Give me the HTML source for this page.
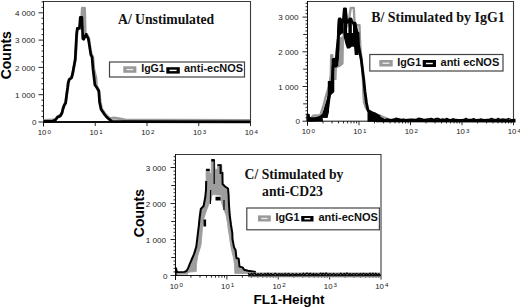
<!DOCTYPE html>
<html><head><meta charset="utf-8"><style>
html,body{margin:0;padding:0;background:#fff;width:520px;height:308px;overflow:hidden}
svg{display:block}
.tl{font-family:"Liberation Sans",sans-serif;font-size:8.1px;fill:#1a1a1a;white-space:pre}
.tl.xl{font-size:7.8px}
.sup{font-family:"Liberation Sans",sans-serif;font-size:6.2px;fill:#1a1a1a}
.ti{font-family:"Liberation Serif",serif;font-weight:bold;font-size:13.7px;fill:#111}
.lg{font-family:"Liberation Sans",sans-serif;font-weight:bold;font-size:10.2px;fill:#111}
.at.ct{font-size:14px}
.at{font-family:"Liberation Sans",sans-serif;font-weight:bold;font-size:13.6px;fill:#000}
</style></head><body>
<svg width="520" height="308" viewBox="0 0 520 308"><g>
<path d="M43.5 1.5H250.5V122" fill="none" stroke="#3a3a3a" stroke-width="1.1"/>
<path d="M43.5 1V126.5" fill="none" stroke="#111" stroke-width="1"/>
<path d="M43.5 122H250.5" fill="none" stroke="#111" stroke-width="2.2"/>
<path d="M38.5 122H43.5M41.5 116.54H43.5M41.5 111.08H43.5M41.5 105.62H43.5M41.5 100.16H43.5M38.5 94.7H43.5M41.5 89.24H43.5M41.5 83.78H43.5M41.5 78.32H43.5M41.5 72.86H43.5M38.5 67.4H43.5M41.5 61.94H43.5M41.5 56.48H43.5M41.5 51.02H43.5M41.5 45.56H43.5M38.5 40.1H43.5M41.5 34.64H43.5M41.5 29.18H43.5M41.5 23.72H43.5M41.5 18.26H43.5M38.5 12.8H43.5M41.5 7.34H43.5M41.5 1.88H43.5" stroke="#111" stroke-width="0.9"/>
<text x="36.6" y="125.2" text-anchor="end" class="tl">0</text>
<text x="35.2" y="97.9" text-anchor="end" class="tl">1 000</text>
<text x="35.2" y="70.6" text-anchor="end" class="tl">2 000</text>
<text x="35.2" y="43.3" text-anchor="end" class="tl">3 000</text>
<text x="35.2" y="16" text-anchor="end" class="tl">4 000</text>
<path d="M43.5 122V126M95.25 122V126M147 122V126M198.75 122V126M250.5 122V126" stroke="#111" stroke-width="0.9"/>
<text x="37.7" y="135" class="tl xl">10</text><text x="47.4" y="133.6" class="sup">0</text>
<text x="89.45" y="135" class="tl xl">10</text><text x="99.15" y="133.6" class="sup">1</text>
<text x="141.2" y="135" class="tl xl">10</text><text x="150.9" y="133.6" class="sup">2</text>
<text x="192.95" y="135" class="tl xl">10</text><text x="202.65" y="133.6" class="sup">3</text>
<text x="244.7" y="135" class="tl xl">10</text><text x="254.4" y="133.6" class="sup">4</text>
<path d="M307.5 1.5H513.5V121.2" fill="none" stroke="#3a3a3a" stroke-width="1.1"/>
<path d="M307.5 1V125.7" fill="none" stroke="#111" stroke-width="1"/>
<path d="M307.5 121.2H513.5" fill="none" stroke="#111" stroke-width="1"/>
<path d="M302.5 121.2H307.5M305.5 117.73H307.5M305.5 114.26H307.5M305.5 110.79H307.5M305.5 107.32H307.5M303.2 103.85H307.5M305.5 100.38H307.5M305.5 96.91H307.5M305.5 93.44H307.5M305.5 89.97H307.5M302.5 86.5H307.5M305.5 83.03H307.5M305.5 79.56H307.5M305.5 76.09H307.5M305.5 72.62H307.5M303.2 69.15H307.5M305.5 65.68H307.5M305.5 62.21H307.5M305.5 58.74H307.5M305.5 55.27H307.5M302.5 51.8H307.5M305.5 48.33H307.5M305.5 44.86H307.5M305.5 41.39H307.5M305.5 37.92H307.5M303.2 34.45H307.5M305.5 30.98H307.5M305.5 27.51H307.5M305.5 24.04H307.5M305.5 20.57H307.5M302.5 17.1H307.5M305.5 13.63H307.5M305.5 10.16H307.5M305.5 6.69H307.5M305.5 3.22H307.5" stroke="#111" stroke-width="0.9"/>
<text x="300" y="124.4" text-anchor="end" class="tl">0</text>
<text x="298.6" y="89.7" text-anchor="end" class="tl">1 000</text>
<text x="298.6" y="55" text-anchor="end" class="tl">2 000</text>
<text x="298.6" y="20.3" text-anchor="end" class="tl">3 000</text>
<path d="M307.5 121.2V125.2M323 121.2V123.4M332.07 121.2V123.4M338.51 121.2V123.4M343.5 121.2V123.4M347.57 121.2V123.4M351.02 121.2V123.4M354.01 121.2V123.4M356.64 121.2V123.4M359 121.2V125.2M374.5 121.2V123.4M383.57 121.2V123.4M390.01 121.2V123.4M395 121.2V123.4M399.07 121.2V123.4M402.52 121.2V123.4M405.51 121.2V123.4M408.14 121.2V123.4M410.5 121.2V125.2M426 121.2V123.4M435.07 121.2V123.4M441.51 121.2V123.4M446.5 121.2V123.4M450.57 121.2V123.4M454.02 121.2V123.4M457.01 121.2V123.4M459.64 121.2V123.4M462 121.2V125.2M477.5 121.2V123.4M486.57 121.2V123.4M493.01 121.2V123.4M498 121.2V123.4M502.07 121.2V123.4M505.52 121.2V123.4M508.51 121.2V123.4M511.14 121.2V123.4M513.5 121.2V125.2" stroke="#111" stroke-width="0.9"/>
<text x="301.7" y="134.2" class="tl xl">10</text><text x="311.4" y="132.8" class="sup">0</text>
<text x="353.2" y="134.2" class="tl xl">10</text><text x="362.9" y="132.8" class="sup">1</text>
<text x="404.7" y="134.2" class="tl xl">10</text><text x="414.4" y="132.8" class="sup">2</text>
<text x="456.2" y="134.2" class="tl xl">10</text><text x="465.9" y="132.8" class="sup">3</text>
<text x="507.7" y="134.2" class="tl xl">10</text><text x="517.4" y="132.8" class="sup">4</text>
<path d="M175.5 154.5H381V275.5" fill="none" stroke="#3a3a3a" stroke-width="1.1"/>
<path d="M175.5 154V280" fill="none" stroke="#111" stroke-width="1"/>
<path d="M175.5 275.5H381" fill="none" stroke="#111" stroke-width="1"/>
<path d="M170.5 275.5H175.5M173.5 271.9H175.5M173.5 268.3H175.5M173.5 264.7H175.5M173.5 261.1H175.5M171.2 257.5H175.5M173.5 253.9H175.5M173.5 250.3H175.5M173.5 246.7H175.5M173.5 243.1H175.5M170.5 239.5H175.5M173.5 235.9H175.5M173.5 232.3H175.5M173.5 228.7H175.5M173.5 225.1H175.5M171.2 221.5H175.5M173.5 217.9H175.5M173.5 214.3H175.5M173.5 210.7H175.5M173.5 207.1H175.5M170.5 203.5H175.5M173.5 199.9H175.5M173.5 196.3H175.5M173.5 192.7H175.5M173.5 189.1H175.5M171.2 185.5H175.5M173.5 181.9H175.5M173.5 178.3H175.5M173.5 174.7H175.5M173.5 171.1H175.5M170.5 167.5H175.5M173.5 163.9H175.5M173.5 160.3H175.5M173.5 156.7H175.5" stroke="#111" stroke-width="0.9"/>
<text x="167.4" y="278.7" text-anchor="end" class="tl">0</text>
<text x="166" y="242.7" text-anchor="end" class="tl">1 000</text>
<text x="166" y="206.7" text-anchor="end" class="tl">2 000</text>
<text x="166" y="170.7" text-anchor="end" class="tl">3 000</text>
<path d="M175.5 275.5V279.5M190.97 275.5V277.7M200.01 275.5V277.7M206.43 275.5V277.7M211.41 275.5V277.7M215.48 275.5V277.7M218.92 275.5V277.7M221.9 275.5V277.7M224.52 275.5V277.7M226.88 275.5V279.5M242.34 275.5V277.7M251.39 275.5V277.7M257.81 275.5V277.7M262.78 275.5V277.7M266.85 275.5V277.7M270.29 275.5V277.7M273.27 275.5V277.7M275.9 275.5V277.7M278.25 275.5V279.5M293.72 275.5V277.7M302.76 275.5V277.7M309.18 275.5V277.7M314.16 275.5V277.7M318.23 275.5V277.7M321.67 275.5V277.7M324.65 275.5V277.7M327.27 275.5V277.7M329.62 275.5V279.5M345.09 275.5V277.7M354.14 275.5V277.7M360.56 275.5V277.7M365.53 275.5V277.7M369.6 275.5V277.7M373.04 275.5V277.7M376.02 275.5V277.7M378.65 275.5V277.7M381 275.5V279.5" stroke="#111" stroke-width="0.9"/>
<text x="169.7" y="288.5" class="tl xl">10</text><text x="179.4" y="287.1" class="sup">0</text>
<text x="221.07" y="288.5" class="tl xl">10</text><text x="230.78" y="287.1" class="sup">1</text>
<text x="272.45" y="288.5" class="tl xl">10</text><text x="282.15" y="287.1" class="sup">2</text>
<text x="323.82" y="288.5" class="tl xl">10</text><text x="333.52" y="287.1" class="sup">3</text>
<text x="375.2" y="288.5" class="tl xl">10</text><text x="384.9" y="287.1" class="sup">4</text>
<g fill="none" stroke-linejoin="round" stroke-linecap="butt">
<!-- A gray -->
<path stroke="#9a9a9a" stroke-width="2.8" d="M43.5 120.3 L53 120 L55.5 119 L57.5 116.5 L60.3 115.2 L62 112.5 L63 108 L64.5 104.5 L65.6 102.5 L67 92.5 L68.3 85 L69 80 L71.6 77.3 L72.7 74 L75.4 59.6 L76.3 45 L76.9 34 L77.5 28.3 L80 28.3 L81.8 17 L82.3 8.2 L84.6 8.2 L85.2 33.5 L86.5 34 L88.8 38.6 L90.3 50 L91.5 54.6 L92.8 57 L93.8 69.2 L96 78 L96.5 86 L98.8 90.5 L100.2 101.5 L101.7 109 L104.6 113.3 L106.8 116 L110 118.6 L114 118 L119 118.6 L125 119.8 L160 120.2 L250 120.4"/>
<!-- A black -->
<path stroke="#000" stroke-width="2.7" d="M43.5 121.3 L53 121.1 L55.5 120 L57.5 117.3 L60.3 116 L62 113 L63 109 L64.3 105 L65.6 103.2 L66.9 92.8 L67.6 88 L68.1 83 L69.3 79.4 L71.5 77.9 L72.5 74.2 L75.2 59.6 L76 45 L76.6 34.2 L77.3 28.4 L79.4 28.4 L80.3 17.4 L82 17.4 L82.8 38.6 L83.6 39.4 L86.1 34.3 L88.3 38.6 L89.7 47 L90.8 54.6 L92 57 L93 69.2 L94.9 85 L96.6 87.3 L98.8 91 L99.5 101.9 L101 109.2 L103.9 113.6 L106.1 116.5 L109 119.2 L112 121.3 L130 121.6 L250 121.9"/>

<!-- B gray -->
<path stroke="#9a9a9a" stroke-width="2.4" d="M307.8 119 L311.5 117.8 L313 115.8 L320.3 115.3 L322 110 L323.8 104.5 L325.9 96 L327.5 91 L329.5 85 L330.8 75 L331 65.6 L331.2 55.2 L332.2 55.2 L333 62 L336 67 L338.5 66 L339.6 60 L340 45 L341 38 L343.5 38 L344 30 L348 25 L350.8 7.9 L353.8 7.9 L354.5 22 L356.6 25.3 L359.5 25.3 L360 40 L360.5 50 L361.5 58 L362.9 80 L363.5 95 L364 102 L366 108 L370 112 L376 114 L382 116.5 L390 119.8 L513 120.5"/>
<path fill="#9a9a9a" stroke="none" d="M339.8 38 L344 38 L343.6 64 L341 66 L339.4 64Z"/>
<path fill="#9a9a9a" stroke="none" d="M338.4 45 L342 45 L341.5 66 L337 68 L336.5 80 L334.3 80 L334.3 66 L338.2 66Z"/>
<!-- B black -->
<path stroke="#000" stroke-width="2.8" d="M307.8 121 L307.8 115 L309.5 119 L312 119.2 L315 118.8 L317.3 118 L320 117.3 L322 116 L323.5 114 L325 110 L326.5 105 L328 100 L329.6 94 L330.5 88 L332 83.5 L332.5 75 L333 66 L336 66 L337.5 58 L338 45 L338.5 30 L339.3 19 L340.3 19 L341.8 22.5 L343.2 22 L344.3 9 L345.5 9 L346.8 22.5 L348.5 22 L349.8 19 L351 19 L352 22 L353.3 23.2 L355 23.2 L356.5 30 L357 33 L358 33 L358.5 45 L359.4 50 L360.3 55 L361.3 60 L363.8 80 L365 92 L366.5 103 L368 110.5 L372 112.8 L374 113.5 L377.5 115.5 L380 116.5"/>
<path stroke="#000" stroke-width="3.8" d="M309 119.6 L316 119.4"/>
<path stroke="#000" stroke-width="3.2" d="M376 120.7 L515.5 120.9"/>
<path stroke="#000" stroke-width="1.3" d="M378.0 119.3 L380.3 118.4 L382.5 119.2 L384.9 119.6 L387.2 119.0 L389.9 119.6 L391.8 119.6 L394.5 118.9 L396.1 118.2 L399.1 119.0 L401.5 119.6 L403.0 119.2 L404.6 119.5 L406.5 119.6 L408.7 119.3 L411.4 119.2 L413.9 119.3 L416.4 119.3 L418.3 118.2 L421.3 118.6 L423.8 119.5 L425.7 119.5 L427.3 118.8 L429.4 118.6 L431.5 118.3 L434.2 119.6 L436.1 118.4 L438.3 118.3 L440.4 119.6 L442.8 118.8 L444.7 119.6 L446.7 118.3 L449.3 119.6 L451.2 119.6 L452.8 118.7 L454.6 119.2 L456.7 119.5 L459.3 119.6 L461.8 119.6 L463.9 119.5 L465.8 118.3 L468.5 119.5 L471.4 119.5 L473.5 118.6 L475.9 119.6 L478.9 119.5 L480.8 118.8 L482.8 119.5 L484.4 119.6 L486.8 119.5 L489.2 119.4 L491.4 118.3 L493.6 119.1 L496.4 119.6 L498.1 118.4 L500.8 119.5 L502.6 118.8 L505.5 119.5 L508.5 118.5 L510.9 119.4 L512.5 119.6 L515.5 119.5"/>
<path fill="#000" stroke="none" d="M337.8 19 L340.8 19 L341.2 22 L343.3 22 L343.3 33 L341.5 34 L339.6 36 L339.2 50 L338.4 58.4 L338.2 66.2 L334.3 66.2 L334.3 92 L331 95 L330.2 100 L329 110 L327.6 117.8 L322.4 117.8 L325 110 L327 100 L327.8 92 L327.8 81 L331.7 81 L331.7 58.4 L335 57.8 L335.6 50 L337.3 35Z"/>
<path fill="#000" stroke="none" d="M343.3 8.6 L346.6 8.6 L347 22 L347.1 33 L348.4 33 L348.4 22 L349.3 22 L349.5 18.4 L351.8 18.4 L351.9 33 L353 33 L353 27 L352.4 22.2 L355.3 22.4 L356.8 33 L358.8 33 L359.3 50 L358.4 55 L354.8 55 L354.1 47 L352 46.4 L349.5 48.5 L347 48.5 L345.5 44.3 L344 38 L343.3 33Z"/>
<path fill="#000" stroke="none" d="M321.6 117.8 L323.5 111.5 L325.9 103.7 L328.9 103.7 L328.9 111.5 L327.4 117.8Z"/>
<path fill="#000" stroke="none" d="M367.9 112.3 L373.6 112.3 L377.9 115.1 L376 117 L368 116Z"/>
<path fill="#000" stroke="none" d="M367.5 111 L373.6 112.3 L377.9 115.1 L382 117.5 L384 118.5 L384 121.8 L367.5 121.8Z"/>
<path fill="#000" stroke="none" d="M307.3 113.9 L309.6 113.9 L309.6 117.4 L316.7 117.4 L320 116.5 L322.5 116 L323 121.6 L307.3 121.6Z"/>

<!-- C gray -->
<path fill="#9d9d9d" stroke="#9d9d9d" stroke-width="0.8" stroke-linejoin="miter" d="M178 273.3 L184 272.6 L188 270 L190 265 L192.2 259.5 L194.3 254 L196.5 246.6 L198 234 L199.2 220 L200.2 215 L201 209 L204.2 205 L205.7 196 L206.2 185 L206.1 175 L206.1 169.5 L209.7 169.5 L209.9 173.5 L211.3 173.5 L211.3 159.8 L214.6 159.8 L215 169.3 L217.5 169.3 L217.5 164.6 L221.6 164.6 L222.4 174 L222.6 184 L225 186 L227.5 188 L228.3 195 L228.7 205 L229.4 215 L230.6 225 L231.8 233 L232.2 239.3 L233.7 247.1 L235.3 250.2 L236.1 258 L238.4 258.8 L239.2 266.6 L242.3 267.4 L243.8 269.7 L248 270.6 L256 271.8 L256 273.5 L234.8 273.5 L234.5 265 L233.5 258 L232 252 L230.5 245 L229.5 237 L228.3 230 L227.3 222 L226 215 L224 210 L222.3 205 L221 200 L221.3 195.3 L213.4 194.5 L211.6 196 L211.3 200 L209 204 L206.7 210 L205 215 L203.5 220 L202.5 228 L201.8 236 L201.2 244 L200.5 247 L198 255 L197.3 259 L196.5 264 L196.3 271.5 L190 272 L186 273.5Z"/>
<!-- C black -->
<path stroke="#000" stroke-width="2" d="M176 275.3 L176 268.2 L177 272.2 L184 272.2 L186.5 271 L188 268.5 L189.7 264.2 L191.9 259 L194.1 253.9 L196.3 246.6 L197.8 234 L198.8 226 L199.6 218 L200.8 209 L203.6 206 L205.3 197 L206 190 L206.2 181"/>
<path stroke="#000" stroke-width="2" d="M222.4 172 L222.6 184 L225 186.5 L228 188.5 L228.6 195 L229 205 L229.7 215 L231 225 L232.3 233 L232.5 239.3 L234 247.1 L235.6 250.2 L236.4 258 L238.7 258.8 L239.5 266.6 L242.6 267.4 L244.1 269.7 L248 270.8 L255.8 272"/>
<path stroke="#999" stroke-width="4.8" d="M248 274.8 L381 275"/>
<path stroke="#000" stroke-width="1.3" d="M248.0 273.2 L249.7 274.7 L251.5 273.5 L252.8 274.4 L254.9 273.2 L256.3 275.2 L258.0 273.7 L259.6 274.9 L261.0 273.5 L263.1 274.8 L265.0 273.5 L266.3 275.0 L268.0 273.2 L269.3 275.1 L271.0 273.6 L273.0 275.0 L275.2 273.3 L277.2 274.8 L279.3 273.7 L280.6 274.5 L282.0 273.8 L283.6 274.9 L285.1 273.4 L286.7 274.7 L288.5 273.5 L290.6 274.9 L292.7 273.7 L294.9 274.9 L296.3 273.7 L298.5 275.1 L300.2 273.6 L301.6 275.1 L303.4 273.2 L304.7 275.1 L306.9 273.1 L308.9 274.7 L310.2 273.2 L312.2 275.1 L313.4 273.5 L314.7 275.0 L316.2 273.7 L318.4 274.8 L320.6 273.2 L321.9 274.9 L323.1 273.2 L324.7 274.9 L326.1 273.0 L328.1 274.7 L330.3 273.7 L331.9 274.8 L333.6 273.5 L335.4 274.8 L337.2 273.8 L338.9 274.7 L340.8 273.2 L342.3 275.2 L344.1 273.4 L345.3 274.7 L347.0 273.0 L348.9 274.9 L350.1 273.5 L351.8 274.9 L353.3 273.6 L355.3 274.4 L356.5 273.5 L358.7 274.6 L360.4 273.5 L361.9 274.7 L363.4 273.3 L365.2 274.6 L366.8 273.6 L368.0 274.9 L369.9 273.2 L371.3 275.0 L372.8 273.1 L374.4 275.0 L375.7 273.3 L377.3 275.1 L378.9 273.7 L380.3 274.7"/>
<path stroke="#111" stroke-width="1.2" d="M248 275.6 L381 275.6"/>
<path stroke="#999" stroke-width="1.8" d="M176.5 273.9 L188 273.6"/>
<path fill="#000" stroke="none" d="M206.1 168.8 h3.6 v2.2 h-3.6Z M211.3 159.1 h3.3 v2.4 h-3.3Z M217.5 164.2 h4.1 v1.8 h-4.1Z M219.6 164.2 h2 v9.8 h-2Z M215.5 196.8 h5.1 v3.6 h-5.1Z M203.5 219.4 h2.6 v7.1 h-2.6Z"/>
<path stroke="#000" stroke-width="1.2" d="M214.2 160 V184 M224 200 V210 M210.6 190 L210.4 204"/>
</g>

<text x="118" y="23.6" class="ti">A/ Unstimulated</text>
<text x="371.2" y="21.7" class="ti" textLength="133.6" lengthAdjust="spacingAndGlyphs">B/ Stimulated by IgG1</text>
<text x="294" y="178.9" text-anchor="middle" class="ti">C/ Stimulated by</text>
<text x="292.5" y="195.8" text-anchor="middle" class="ti">anti-CD23</text>
<rect x="109.5" y="62" width="135" height="15" fill="#fff" stroke="#444" stroke-width="1.2"/>
<rect x="123.3" y="66.3" width="13.1" height="6.5" fill="#999"/>
<rect x="126.5" y="68.85" width="6.7" height="1.4" fill="#e8e8e8"/>
<rect x="166.3" y="67.2" width="13.5" height="6.4" fill="#000"/>
<rect x="169.5" y="69.7" width="7.1" height="1.4" fill="#fff"/>
<text x="141.2" y="72" class="lg" textLength="23.6" lengthAdjust="spacingAndGlyphs">IgG1</text>
<text x="184" y="72" class="lg" textLength="59" lengthAdjust="spacingAndGlyphs">anti-ecNOS</text>
<rect x="369.8" y="54.5" width="133.2" height="16.5" fill="#fff" stroke="#444" stroke-width="1.2"/>
<rect x="379.3" y="60" width="13.4" height="6.5" fill="#999"/>
<rect x="382.5" y="62.55" width="7" height="1.4" fill="#e8e8e8"/>
<rect x="422.7" y="60" width="13.3" height="7" fill="#000"/>
<rect x="425.9" y="62.8" width="6.9" height="1.4" fill="#fff"/>
<text x="397.3" y="65.5" class="lg" textLength="23.8" lengthAdjust="spacingAndGlyphs">IgG1</text>
<text x="440.5" y="65.5" class="lg" textLength="58.8" lengthAdjust="spacingAndGlyphs">anti ecNOS</text>
<rect x="246.8" y="208" width="132.6" height="21.8" fill="#fff" stroke="#444" stroke-width="1.2"/>
<rect x="258" y="215.4" width="12.8" height="6.1" fill="#999"/>
<rect x="261.2" y="217.75" width="6.4" height="1.4" fill="#e8e8e8"/>
<rect x="301.2" y="216" width="12.3" height="5.5" fill="#000"/>
<rect x="304.4" y="218.05" width="5.9" height="1.4" fill="#fff"/>
<text x="275.5" y="220.5" class="lg" textLength="24" lengthAdjust="spacingAndGlyphs">IgG1</text>
<text x="318.4" y="220.5" class="lg" textLength="59.6" lengthAdjust="spacingAndGlyphs">anti-ecNOS</text>
<text transform="translate(11.2 55.2) rotate(-90)" text-anchor="middle" class="at ct">Counts</text>
<text transform="translate(143.6 213.1) rotate(-90)" text-anchor="middle" class="at ct">Counts</text>
<text x="289" y="304" text-anchor="middle" class="at">FL1-Height</text>
</g></svg>
</body></html>
